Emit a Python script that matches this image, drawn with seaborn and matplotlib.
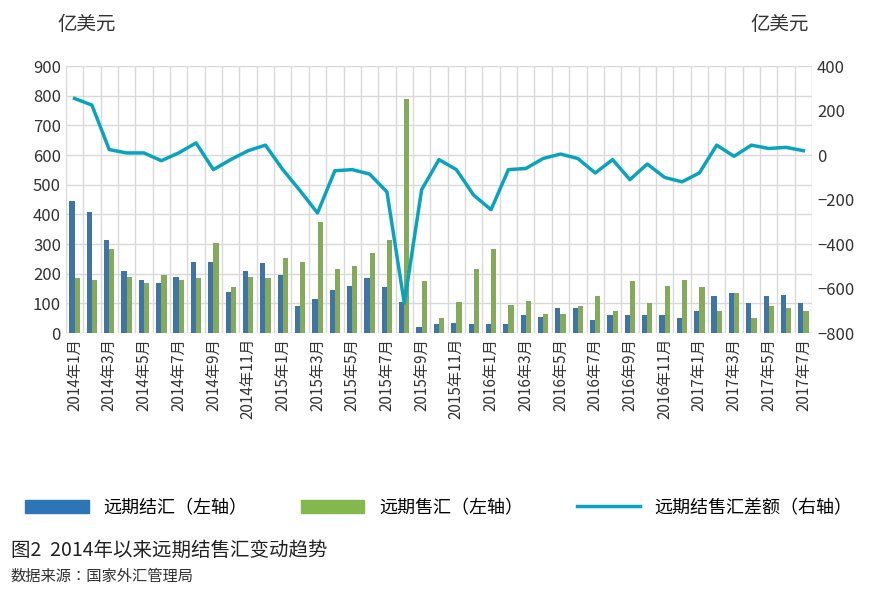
import matplotlib
matplotlib.use("Agg")
import matplotlib.pyplot as plt
import numpy as np
import pandas as pd
import seaborn as sns
from matplotlib.lines import Line2D
from matplotlib.patches import Patch

plt.rcParams["font.family"] = ["Noto Sans CJK SC", "Noto Sans CJK JP", "Noto Sans CJK TC",
                               "Noto Sans CJK KR", "DejaVu Sans"]

months = [f"{y}年{m}月" for y in (2014, 2015, 2016) for m in range(1, 13)] + [f"2017年{m}月" for m in range(1, 8)]
settle = [445, 410, 315, 210, 180, 170, 190, 240, 240, 140, 210, 235,
          195, 90, 115, 145, 160, 185, 155, 105, 20, 30, 35, 30,
          30, 30, 60, 55, 85, 85, 45, 60, 60, 60, 60, 50,
          75, 125, 135, 100, 125, 130, 100]
sale = [185, 180, 285, 190, 170, 195, 180, 185, 305, 155, 190, 185,
        255, 240, 375, 215, 225, 270, 315, 790, 175, 50, 105, 215,
        285, 95, 110, 65, 65, 90, 125, 75, 175, 100, 160, 180,
        155, 75, 135, 50, 90, 85, 75]
diff = [255, 225, 25, 10, 10, -25, 10, 55, -65, -20, 20, 45,
        -65, -160, -260, -70, -65, -85, -165, -665, -155, -20, -65, -180,
        -245, -65, -60, -15, 5, -15, -80, -20, -110, -40, -100, -120,
        -80, 45, -5, 45, 30, 35, 20]

blue, green, teal = "#2e75b6", "#84b74e", "#0aa3bd"
df = pd.DataFrame({"month": months * 2, "value": settle + sale,
                   "kind": ["远期结汇（左轴）"] * len(months) + ["远期售汇（左轴）"] * len(months)})

fig = plt.figure(figsize=(8.78, 5.96), dpi=100)
ax = fig.add_axes([0.075, 0.441, 0.85, 0.448])
sns.barplot(data=df, x="month", y="value", hue="kind", palette=[blue, green],
            width=0.6, ax=ax, legend=False, zorder=3)
ax.set_xlim(-0.5, len(months) - 0.5)
ax.set_ylim(0, 900)
ax.set_yticks(range(0, 901, 100))
ax.set_xticks(range(0, len(months), 2))
ax.set_xticklabels(months[::2], rotation=90, fontsize=11, color="#333333")
ax.set_xticks(np.arange(-0.5, len(months), 1), minor=True)
ax.grid(False)
ax.grid(which="minor", axis="x", color="#d9d9d9", lw=1)
ax.grid(which="major", axis="y", color="#d9d9d9", lw=1)
ax.set_axisbelow(True)
ax.tick_params(axis="x", which="both", length=0)
ax.tick_params(axis="y", length=0, labelsize=12, colors="#333333")
ax.set_xlabel("")
ax.set_ylabel("")
for s in ax.spines.values():
    s.set_visible(False)

ax2 = ax.twinx()
sns.lineplot(x=np.arange(len(months)), y=diff, color=teal, lw=2.5, ax=ax2)
ax2.set_ylim(-800, 400)
ax2.set_yticks(range(-800, 401, 200))
ax2.tick_params(axis="y", length=0, labelsize=12, colors="#333333")
for s in ax2.spines.values():
    s.set_visible(False)

fig.text(0.065, 0.95, "亿美元", fontsize=14, color="#333333")
fig.text(0.855, 0.95, "亿美元", fontsize=14, color="#333333")

handles = [Patch(color=blue), Patch(color=green), Line2D([], [], color=teal, lw=2.5)]
labels = ["远期结汇（左轴）", "远期售汇（左轴）", "远期结售汇差额（右轴）"]
fig.legend(handles, labels, loc="center", bbox_to_anchor=(0.5, 0.148), ncol=3,
           frameon=False, fontsize=13, handlelength=3.5, columnspacing=3)
fig.text(0.012, 0.068, "图2  2014年以来远期结售汇变动趋势", fontsize=14, color="#222222")
fig.text(0.012, 0.025, "数据来源：国家外汇管理局", fontsize=11, color="#333333")

fig.savefig("out.png", dpi=100)
